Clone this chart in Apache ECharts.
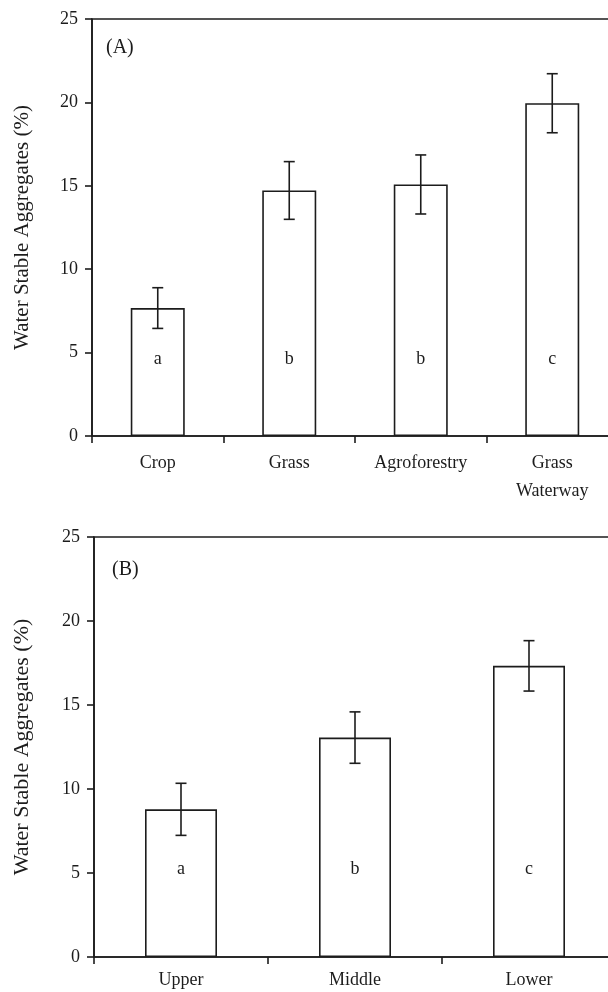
<!DOCTYPE html>
<html>
<head>
<meta charset="utf-8">
<script src="https://cdn.jsdelivr.net/npm/echarts@6/dist/echarts.min.js"></script>
<style>
html,body{margin:0;padding:0;background:#fff;}
#c{width:608px;height:992px;}
</style>
</head>
<body>
<div id="c"></div>
<script>
// Panel A data
var catsA = ['Crop', 'Grass', 'Agroforestry', 'Grass\nWaterway'];
var valsA = [7.67, 14.72, 15.08, 19.95];
var errA = [1.22, 1.73, 1.77, 1.77];
var lettersA = ['a', 'b', 'b', 'c'];
// Panel B data
var catsB = ['Upper', 'Middle', 'Lower'];
var valsB = [8.79, 13.06, 17.33];
var errB = [1.55, 1.53, 1.50];
var lettersB = ['a', 'b', 'c'];
// Axis ticks
var yMin = 0, yMax = 25, yStep = 5;
var yTitle = 'Water Stable Aggregates (%)';
var panelTitles = ['(A)', '(B)'];

var INK = '#1c1c1c';
var FONT = '"Liberation Serif", "Times New Roman", serif';

function errSeries(idx, vals, errs) {
  return {
    type: 'custom',
    xAxisIndex: idx, yAxisIndex: idx,
    silent: true,
    z: 5,
    data: vals.map(function (v, i) { return [i, v, errs[i]]; }),
    renderItem: function (params, api) {
      var x = api.value(0), y = api.value(1), e = api.value(2);
      var t = api.coord([x, y + e]);
      var b = api.coord([x, y - e]);
      var hw = 5.5;
      var st = { stroke: INK, lineWidth: 1.6 };
      return {
        type: 'group',
        children: [
          { type: 'line', shape: { x1: t[0], y1: t[1], x2: b[0], y2: b[1] }, style: st },
          { type: 'line', shape: { x1: t[0] - hw, y1: t[1], x2: t[0] + hw, y2: t[1] }, style: st },
          { type: 'line', shape: { x1: b[0] - hw, y1: b[1], x2: b[0] + hw, y2: b[1] }, style: st }
        ]
      };
    }
  };
}

function barSeries(idx, vals, letters, bw, dist) {
  return {
    type: 'bar',
    xAxisIndex: idx, yAxisIndex: idx,
    data: vals,
    barWidth: bw,
    itemStyle: { color: '#fff', borderColor: INK, borderWidth: 1.6 },
    label: {
      show: true,
      position: 'insideBottom',
      distance: dist,
      formatter: function (p) { return letters[p.dataIndex]; },
      fontFamily: FONT, fontSize: 18, color: INK
    },
    silent: true
  };
}

function xAx(idx, cats, margin, lh) {
  return {
    type: 'category', gridIndex: idx, data: cats,
    axisLine: { lineStyle: { color: INK, width: 1.6 } },
    axisTick: { show: true, length: 7, inside: false, lineStyle: { color: INK, width: 1.6 } },
    axisLabel: { fontFamily: FONT, fontSize: 18, color: INK, margin: margin, lineHeight: lh, interval: 0 },
    splitLine: { show: false }
  };
}

function yAx(idx, gap, fs) {
  return {
    type: 'value', gridIndex: idx, min: yMin, max: yMax, interval: yStep,
    name: yTitle, nameLocation: 'middle', nameGap: gap, nameRotate: 90,
    nameTextStyle: { fontFamily: FONT, fontSize: fs, color: INK },
    axisLine: { show: true, lineStyle: { color: INK, width: 1.6 } },
    axisTick: { show: true, length: 7, lineStyle: { color: INK, width: 1.6 } },
    axisLabel: { fontFamily: FONT, fontSize: 18, color: INK, margin: 14 },
    splitLine: { show: false }
  };
}

var chart = echarts.init(document.getElementById('c'), null, { renderer: 'canvas' });
chart.setOption({
  backgroundColor: '#fff',
  animation: false,
  grid: [
    { left: 92, top: 19, width: 526, height: 417, outerBoundsMode: 'none', containLabel: false, show: true, borderColor: INK, borderWidth: 1.6, backgroundColor: 'transparent' },
    { left: 94, top: 537, width: 522, height: 420, outerBoundsMode: 'none', containLabel: false, show: true, borderColor: INK, borderWidth: 1.6, backgroundColor: 'transparent' }
  ],
  title: [
    { text: panelTitles[0], left: 101, top: 33, textStyle: { fontFamily: FONT, fontSize: 20, fontWeight: 'normal', color: INK } },
    { text: panelTitles[1], left: 107, top: 555, textStyle: { fontFamily: FONT, fontSize: 20, fontWeight: 'normal', color: INK } }
  ],
  xAxis: [xAx(0, catsA, 13, 28), xAx(1, catsB, 11, 24)],
  yAxis: [yAx(0, 59, 21), yAx(1, 61, 22)],
  series: [
    barSeries(0, valsA, lettersA, 54, 68),
    errSeries(0, valsA, errA),
    barSeries(1, valsB, lettersB, 72, 79),
    errSeries(1, valsB, errB)
  ]
});
</script>
</body>
</html>
